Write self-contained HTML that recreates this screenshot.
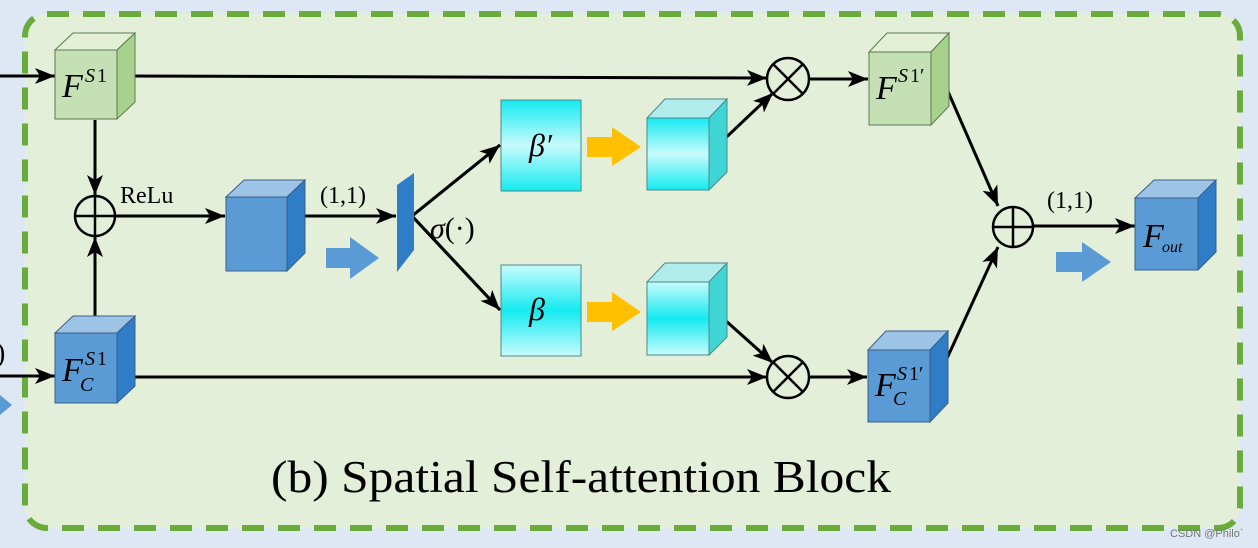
<!DOCTYPE html>
<html><head><meta charset="utf-8"><style>
html,body{margin:0;padding:0;background:#dde8f4;}
svg{display:block}
text{font-family:"Liberation Serif",serif;}
</style></head><body>
<svg width="1258" height="548" viewBox="0 0 1258 548" xmlns="http://www.w3.org/2000/svg">
<defs>
<marker id="ah" markerWidth="10" markerHeight="10" refX="9" refY="5" orient="auto" markerUnits="userSpaceOnUse" viewBox="0 0 10 10">
</marker>
<marker id="a" viewBox="0 0 20 16" refX="20" refY="8" markerWidth="20" markerHeight="16" orient="auto" markerUnits="userSpaceOnUse">
<path d="M0,0 L20,8 L0,16 L5,8 Z" fill="#000"/></marker>
<linearGradient id="cy1" x1="0" y1="0" x2="0" y2="1">
<stop offset="0" stop-color="#14eaf0"/><stop offset="0.5" stop-color="#c8fbfd"/><stop offset="1" stop-color="#14eaf0"/></linearGradient>
<linearGradient id="cy2" x1="0" y1="0" x2="0" y2="1">
<stop offset="0" stop-color="#c8fbfd"/><stop offset="0.5" stop-color="#14eaf0"/><stop offset="1" stop-color="#c8fbfd"/></linearGradient>
</defs>
<rect width="1258" height="548" fill="#dde8f4"/>
<rect x="25" y="14" width="1215" height="514" rx="22" fill="#e3efd9" stroke="#6aac3c" stroke-width="6" stroke-dasharray="22,14"/>

<!-- left fragments -->
<text x="-4" y="362" font-size="28">)</text>
<path d="M0,395 L12,405 L0,415 Z" fill="#5b9bd5"/>

<!-- lines -->
<g stroke="#000" stroke-width="3" fill="none">
<line x1="0" y1="76" x2="55" y2="76" marker-end="url(#a)"/>
<line x1="0" y1="376" x2="55" y2="376" marker-end="url(#a)"/>
<line x1="125" y1="76" x2="767" y2="78" marker-end="url(#a)"/>
<line x1="125" y1="377" x2="767" y2="377" marker-end="url(#a)"/>
<line x1="95" y1="120" x2="95" y2="195" marker-end="url(#a)"/>
<line x1="95" y1="323" x2="95" y2="237" marker-end="url(#a)"/>
<line x1="115" y1="216" x2="225" y2="216" marker-end="url(#a)"/>
<line x1="295" y1="216" x2="396" y2="216" marker-end="url(#a)"/>
<polyline points="500,145 412,216 500,310" />
<line x1="412" y1="216" x2="500" y2="145" marker-end="url(#a)"/>
<line x1="412" y1="216" x2="500" y2="310" marker-end="url(#a)"/>
<line x1="716" y1="147" x2="773" y2="93" marker-end="url(#a)"/>
<line x1="716" y1="312" x2="773" y2="363" marker-end="url(#a)"/>
<line x1="809" y1="79" x2="868" y2="79" marker-end="url(#a)"/>
<line x1="809" y1="377" x2="867" y2="377" marker-end="url(#a)"/>
<line x1="943" y1="80" x2="998" y2="206" marker-end="url(#a)"/>
<line x1="938" y1="378" x2="998" y2="247" marker-end="url(#a)"/>
<line x1="1033" y1="226" x2="1135" y2="226" marker-end="url(#a)"/>
</g>

<!-- circles -->
<g stroke="#000" stroke-width="2.5" fill="none">
<circle cx="95" cy="216" r="20"/><line x1="75" y1="216" x2="115" y2="216"/><line x1="95" y1="196" x2="95" y2="236"/>
<circle cx="1013" cy="227" r="20"/><line x1="993" y1="227" x2="1033" y2="227"/><line x1="1013" y1="207" x2="1013" y2="247"/>
<circle cx="788" cy="79" r="21"/><line x1="773" y1="64" x2="803" y2="94"/><line x1="803" y1="64" x2="773" y2="94"/>
<circle cx="788" cy="377" r="21"/><line x1="773" y1="362" x2="803" y2="392"/><line x1="803" y1="362" x2="773" y2="392"/>
</g>

<!-- cubes: green -->
<g stroke="#5a7a50" stroke-width="1">
<polygon points="55,50 73,33 135,33 117,50" fill="#e3f0d6"/>
<polygon points="117,50 135,33 135,102 117,119" fill="#a9d18e"/>
<rect x="55" y="50" width="62" height="69" fill="#c5e0b4"/>
<polygon points="869,52 887,33 949,33 931,52" fill="#e3f0d6"/>
<polygon points="931,52 949,33 949,106 931,125" fill="#a9d18e"/>
<rect x="869" y="52" width="62" height="73" fill="#c5e0b4"/>
</g>
<!-- blue cubes -->
<g stroke="#3a5f86" stroke-width="1">
<polygon points="55,333 73,316 135,316 117,333" fill="#9dc3e6"/>
<polygon points="117,333 135,316 135,386 117,403" fill="#2e7dc6"/>
<rect x="55" y="333" width="62" height="70" fill="#5b9bd5"/>
<polygon points="226,197 244,180 305,180 287,197" fill="#9dc3e6"/>
<polygon points="287,197 305,180 305,253 287,271" fill="#2e7dc6"/>
<rect x="226" y="197" width="61" height="74" fill="#5b9bd5"/>
<polygon points="868,350 886,331 948,331 930,350" fill="#9dc3e6"/>
<polygon points="930,350 948,331 948,403 930,422" fill="#2e7dc6"/>
<rect x="868" y="350" width="62" height="72" fill="#5b9bd5"/>
<polygon points="1135,198 1154,180 1216,180 1198,198" fill="#9dc3e6"/>
<polygon points="1198,198 1216,180 1216,252 1198,270" fill="#2e7dc6"/>
<rect x="1135" y="198" width="63" height="72" fill="#5b9bd5"/>
</g>
<polygon points="397,185 414,173 414,250 397,272" fill="#2e7dc6"/>
<!-- cyan -->
<g stroke="#4a8a8a" stroke-width="1">
<rect x="501" y="100" width="80" height="91" fill="url(#cy1)"/>
<rect x="501" y="265" width="80" height="91" fill="url(#cy2)"/>
<polygon points="647,118 665,99 727,99 709,118" fill="#b0ecec"/>
<polygon points="709,118 727,99 727,172 709,190" fill="#40d5d5"/>
<rect x="647" y="118" width="62" height="72" fill="url(#cy1)"/>
<polygon points="647,282 665,263 727,263 709,282" fill="#b0ecec"/>
<polygon points="709,282 727,263 727,337 709,355" fill="#40d5d5"/>
<rect x="647" y="282" width="62" height="73" fill="url(#cy2)"/>
</g>
<!-- fat arrows -->
<g fill="#ffc000">
<path d="M587,137 L612,137 L612,127 L641,147 L612,166 L612,157 L587,157 Z"/>
<path d="M587,302 L612,302 L612,292 L641,312 L612,331 L612,322 L587,322 Z"/>
</g>
<g fill="#5b9bd5">
<path d="M326,248 L350,248 L350,237 L379,258 L350,279 L350,268 L326,268 Z"/>
<path d="M1056,252 L1082,252 L1082,242 L1111,262 L1082,282 L1082,272 L1056,272 Z"/>
</g>

<!-- labels -->
<text x="62" y="97" font-size="34" font-style="italic">F</text><text x="85" y="82" font-size="20" font-style="italic">S</text><text x="97" y="82" font-size="20">1</text>
<text x="62" y="381" font-size="34" font-style="italic">F</text><text x="85" y="365" font-size="20" font-style="italic">S</text><text x="97" y="365" font-size="20">1</text><text x="80" y="391" font-size="20" font-style="italic">C</text>
<text x="876" y="99" font-size="34" font-style="italic">F</text><text x="898" y="82" font-size="20" font-style="italic">S</text><text x="910" y="82" font-size="20">1′</text>
<text x="875" y="396" font-size="34" font-style="italic">F</text><text x="897" y="380" font-size="20" font-style="italic">S</text><text x="909" y="380" font-size="20">1′</text><text x="893" y="405" font-size="20" font-style="italic">C</text>
<text x="1143" y="247" font-size="34" font-style="italic">F</text><text x="1162" y="252" font-size="16" font-style="italic">out</text>
<text x="529" y="156" font-size="32" font-style="italic">β′</text>
<text x="529" y="320" font-size="32" font-style="italic">β</text>
<text x="120" y="203" font-size="24">ReLu</text>
<text x="320" y="203" font-size="24">(1,1)</text>
<text x="1047" y="208" font-size="24">(1,1)</text>
<text x="430" y="238" font-size="30"><tspan font-style="italic">σ</tspan>(·)</text>
<text x="271" y="492" font-size="45" textLength="620" lengthAdjust="spacingAndGlyphs">(b) Spatial Self-attention Block</text>
<text x="1170" y="537" font-size="11" fill="#777" font-family="Liberation Sans, sans-serif" style="font-family:'Liberation Sans',sans-serif">CSDN @Philo`</text>
</svg>
</body></html>
